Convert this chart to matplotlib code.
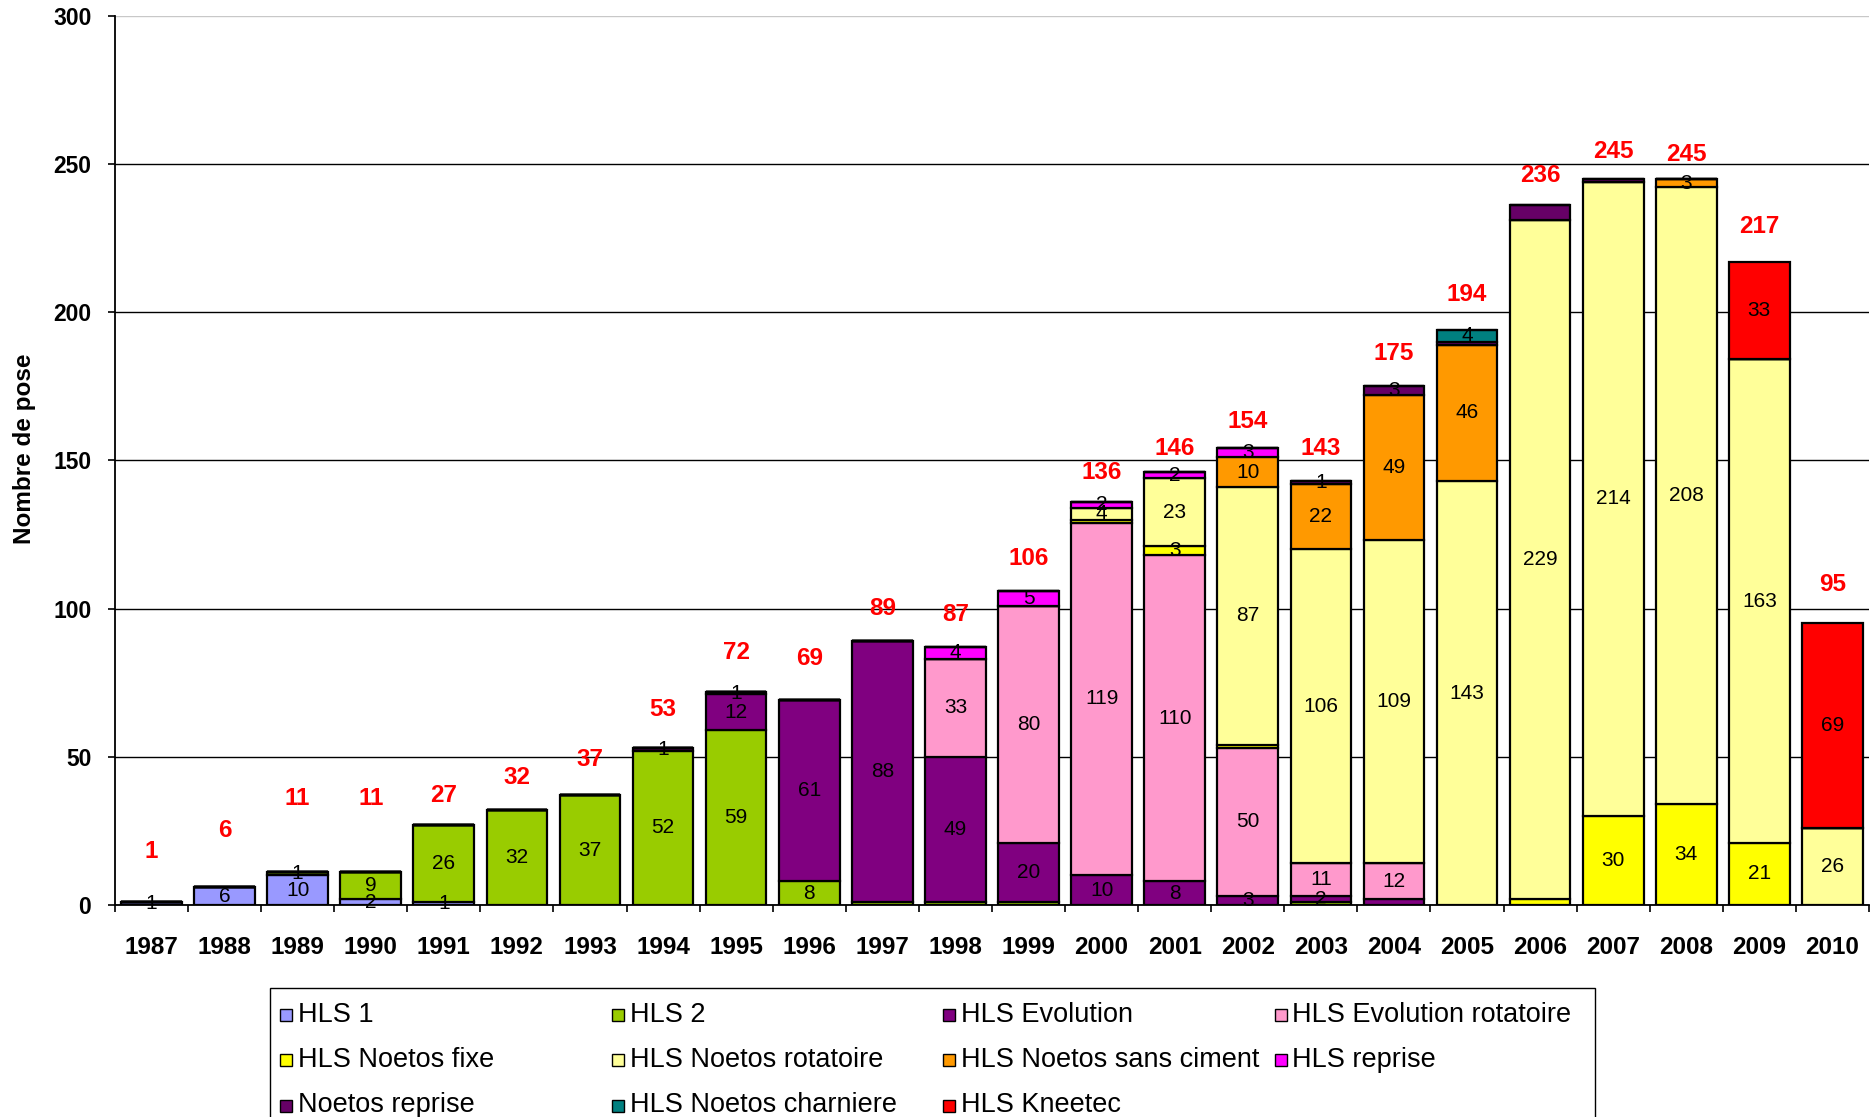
import matplotlib
matplotlib.use('Agg')
import matplotlib.pyplot as plt
import numpy as np
from matplotlib.patches import Rectangle

plt.rcParams['font.family'] = ['Liberation Sans', 'DejaVu Sans']

# Données : nombre de poses par année et par modèle
annees = ['1987', '1988', '1989', '1990', '1991', '1992', '1993', '1994', '1995', '1996', '1997', '1998',
          '1999', '2000', '2001', '2002', '2003', '2004', '2005', '2006', '2007', '2008', '2009', '2010']

hls_1 = [1, 6, 10, 2, 1, 0, 0, 0, 0, 0, 0, 0, 0, 0, 0, 0, 0, 0, 0, 0, 0, 0, 0, 0]
hls_2 = [0, 0, 1, 9, 26, 32, 37, 52, 59, 8, 1, 1, 1, 0, 0, 0, 1, 0, 0, 0, 0, 0, 0, 0]
hls_evolution = [0, 0, 0, 0, 0, 0, 0, 1, 12, 61, 88, 49, 20, 10, 8, 3, 2, 2, 0, 0, 0, 0, 0, 0]
hls_evolution_rot = [0, 0, 0, 0, 0, 0, 0, 0, 1, 0, 0, 33, 80, 119, 110, 50, 11, 12, 0, 0, 0, 0, 0, 0]
noetos_fixe = [0, 0, 0, 0, 0, 0, 0, 0, 0, 0, 0, 0, 0, 1, 3, 1, 0, 0, 0, 2, 30, 34, 21, 0]
noetos_rot = [0, 0, 0, 0, 0, 0, 0, 0, 0, 0, 0, 0, 0, 4, 23, 87, 106, 109, 143, 229, 214, 208, 163, 26]
noetos_sans_ciment = [0, 0, 0, 0, 0, 0, 0, 0, 0, 0, 0, 0, 0, 0, 0, 10, 22, 49, 46, 0, 0, 3, 0, 0]
hls_reprise = [0, 0, 0, 0, 0, 0, 0, 0, 0, 0, 0, 4, 5, 2, 2, 3, 0, 0, 0, 0, 0, 0, 0, 0]
noetos_reprise = [0, 0, 0, 0, 0, 0, 0, 0, 0, 0, 0, 0, 0, 0, 0, 0, 1, 3, 1, 5, 1, 0, 0, 0]
noetos_charniere = [0, 0, 0, 0, 0, 0, 0, 0, 0, 0, 0, 0, 0, 0, 0, 0, 0, 0, 4, 0, 0, 0, 0, 0]
kneetec = [0, 0, 0, 0, 0, 0, 0, 0, 0, 0, 0, 0, 0, 0, 0, 0, 0, 0, 0, 0, 0, 0, 33, 69]

series = [
    ('HLS 1', hls_1, '#9999FF'),
    ('HLS 2', hls_2, '#99CC00'),
    ('HLS Evolution', hls_evolution, '#800080'),
    ('HLS Evolution rotatoire', hls_evolution_rot, '#FF99CC'),
    ('HLS Noetos fixe', noetos_fixe, '#FFFF00'),
    ('HLS Noetos rotatoire', noetos_rot, '#FFFF99'),
    ('HLS Noetos sans ciment', noetos_sans_ciment, '#FF9900'),
    ('HLS reprise', hls_reprise, '#FF00FF'),
    ('Noetos reprise', noetos_reprise, '#660066'),
    ('HLS Noetos charniere', noetos_charniere, '#008080'),
    ('HLS Kneetec', kneetec, '#FF0000'),
]

# étiquettes effacées dans le graphique d'origine (série, année)
etiquettes_cachees = {('HLS 2', '1997'), ('HLS 2', '1998'), ('HLS 2', '1999'), ('HLS 2', '2003'),
                      ('HLS Noetos fixe', '2000'), ('HLS Noetos fixe', '2002'), ('HLS Noetos fixe', '2006'),
                      ('HLS Evolution', '2004'), ('Noetos reprise', '2005'), ('Noetos reprise', '2006'),
                      ('Noetos reprise', '2007')}

# hauteur des totaux rouges au-dessus des barres
decalage_total = [17, 19, 25, 25, 10, 11, 12, 13, 13, 14, 11, 11, 11, 10, 8, 9, 11, 11, 12, 10, 9, 8, 12, 13]

fig = plt.figure(figsize=(18.75, 11.17), dpi=100)
ax = fig.add_axes([0.0613, 0.1898, 0.9355, 0.7963])

x = np.arange(len(annees))
bas = np.zeros(len(annees))
for nom, valeurs, couleur in series:
    valeurs = np.array(valeurs, dtype=float)
    ax.bar(x, valeurs, 0.83, bottom=bas, color=couleur, edgecolor='black', linewidth=1.6, label=nom)
    for i in range(len(annees)):
        if valeurs[i] > 0 and (nom, annees[i]) not in etiquettes_cachees:
            ax.text(x[i], bas[i] + valeurs[i] / 2, f"{int(valeurs[i])}", ha='center', va='center',
                    fontsize=15, color='black')
    bas = bas + valeurs

for i in range(len(annees)):
    ax.text(x[i], bas[i] + decalage_total[i], f"{int(bas[i])}", ha='center', va='center',
            fontsize=17.5, fontweight='bold', color='red')

ax.set_xlim(-0.5, len(annees) - 0.5)
ax.set_ylim(0, 300)
ax.set_yticks(range(0, 301, 50))
ax.set_xticks(x)
ax.set_xticklabels(annees, fontsize=17.5, fontweight='bold')
ax.set_xticks(np.arange(-0.5, len(annees), 1), minor=True)
ax.tick_params(axis='x', which='major', length=0, pad=22)
ax.tick_params(axis='x', which='minor', length=5, width=1.2, direction='out')
ax.tick_params(axis='y', length=5, width=1.2, direction='out', pad=12, labelsize=16.5)
for lab in ax.get_yticklabels():
    lab.set_fontweight('bold')

ax.set_axisbelow(True)
ax.yaxis.grid(True, color='black', linewidth=1)
ax.yaxis.get_gridlines()[-1].set_color('#c8c8c8')
ax.spines['top'].set_visible(False)
ax.spines['right'].set_visible(False)
ax.spines['left'].set_linewidth(1.3)
ax.spines['bottom'].set_linewidth(1.3)

fig.text(25 / 1875, 1 - 449 / 1117, 'Nombre de pose', rotation=90, ha='center', va='center',
         fontsize=17.5, fontweight='bold')
fig.text(0.528, 1 - 1000 / 1117, 'Années', ha='center', va='center', fontsize=17.5, fontweight='bold',
         zorder=1)

# légende façon Excel, coupée en bas de l'image
cadre = Rectangle((270 / 1875, -0.06), (1595 - 270) / 1875, 0.06 + (1117 - 988) / 1117,
                  transform=fig.transFigure, facecolor='white', edgecolor='black', linewidth=1, zorder=5)
fig.add_artist(cadre)
for k, (nom, valeurs, couleur) in enumerate(series):
    col = k % 4
    ligne = k // 4
    gauche = 280 + col * 331.5
    centre = 1014.5 + ligne * 45.5
    carre = Rectangle((gauche / 1875, 1 - (centre + 6) / 1117), 12 / 1875, 12 / 1117,
                      transform=fig.transFigure, facecolor=couleur, edgecolor='black', linewidth=1, zorder=6)
    fig.add_artist(carre)
    fig.text((gauche + 18) / 1875, 1 - centre / 1117, nom, ha='left', va='center', fontsize=19.5, zorder=6)

plt.savefig('out.png', dpi=100)
plt.close()
